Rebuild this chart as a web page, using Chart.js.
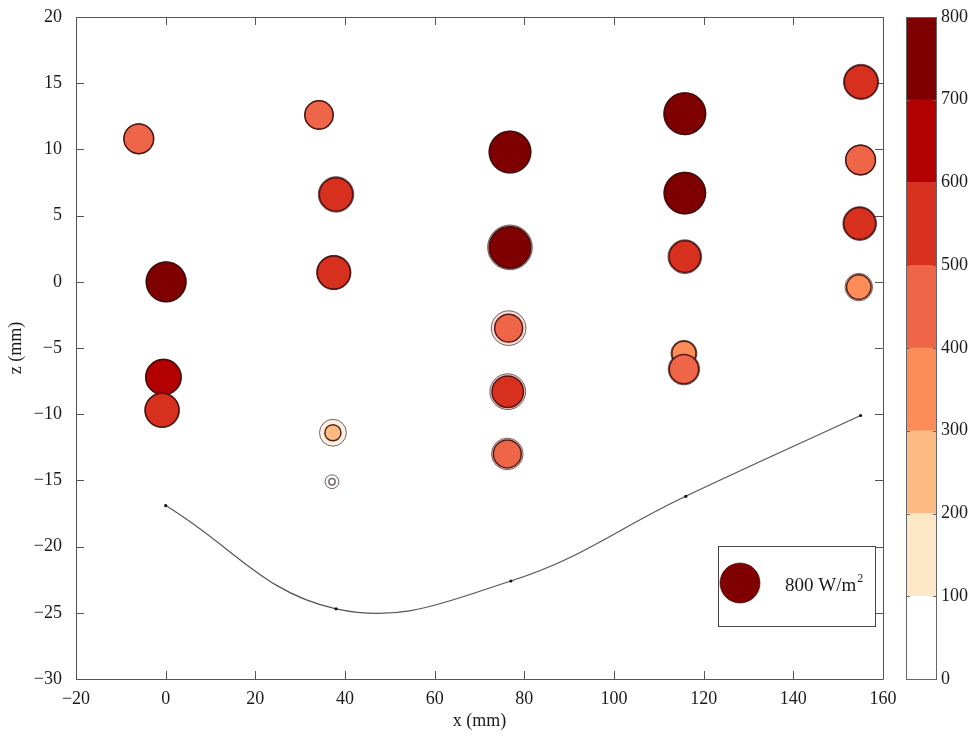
<!DOCTYPE html>
<html><head><meta charset="utf-8">
<script src="https://cdn.jsdelivr.net/npm/chart.js@4/dist/chart.umd.min.js"></script>
<style>
html,body{margin:0;padding:0;background:#fff;}
#wrap{position:relative;width:974px;height:737px;overflow:hidden;}
#main{position:absolute;left:0;top:0;}
#cbar{position:absolute;left:890px;top:0;}
</style></head><body>
<div id="wrap"><canvas id="main" width="974" height="737"></canvas><canvas id="cbar" width="84" height="737"></canvas></div>
<script>
// ---- data ----
const xPos  = [-6.0, 0.1, -0.5, -0.8, 34.2, 38.0, 37.5, 37.3, 37.1, 76.8, 76.8, 76.5, 76.3, 76.2, 115.8, 115.8, 115.8, 115.6, 115.6, 155.1, 155.0, 154.8, 154.6];
const zPos  = [10.8, 0.0, -7.2, -9.7, 12.6, 6.6, 0.7, -11.4, -15.1, 9.8, 2.6, -3.5, -8.3, -13.0, 12.7, 6.7, 1.9, -5.4, -6.6, 15.1, 9.2, 4.4, -0.4];
const fluxA = [440, 790, 620, 570, 400, 560, 550, 130, 20, 860, 870, 390, 500, 390, 860, 850, 500, 290, 430, 560, 440, 510, 300];
const fluxB = [460, 800, 650, 600, 420, 630, 590, 360, 95, 880, 1000, 600, 640, 500, 890, 880, 570, 340, 500, 620, 460, 570, 380];
const pathX = [0, 38, 77, 116, 155];
const pathZ = [-16.9, -24.7, -22.6, -16.2, -10.1];
const xTicks = [-20, 0, 20, 40, 60, 80, 100, 120, 140, 160];
const zTicks = [-30, -25, -20, -15, -10, -5, 0, 5, 10, 15, 20];
const bandEdges = [0, 100, 200, 300, 400, 500, 600, 700, 800];
const bandColors = ['#ffffff', '#fee8c8', '#fdbb84', '#fc8d59', '#ef6548', '#d7301f', '#b30000', '#7f0000'];
const legendValue = 800;

// ---- helpers ----
const SERIF = '"Liberation Serif", "Times New Roman", serif';
Chart.defaults.font.family = SERIF;
Chart.defaults.font.size = 18;
Chart.defaults.color = '#1a1a1a';
const REF_R = 20;
function radius(v) { return REF_R * Math.sqrt(v / legendValue); }
function bandColor(v) {
  for (let i = 0; i < bandColors.length; i++) if (v < bandEdges[i + 1]) return bandColors[i];
  return bandColors[bandColors.length - 1];
}
function hexA(hex, a) {
  const n = parseInt(hex.slice(1), 16);
  return `rgba(${(n >> 16) & 255},${(n >> 8) & 255},${n & 255},${a})`;
}
const fmt = v => String(v).replace('-', '\u2212');
const meanFlux = fluxA.map((a, i) => (a + fluxB[i]) / 2);
const innerVal = fluxA.map((a, i) => Math.min(a, fluxB[i]));
const outerVal = fluxA.map((a, i) => Math.max(a, fluxB[i]));

const inner = xPos.map((x, i) => ({x, y: zPos[i], r: radius(innerVal[i])}));
const outer = xPos.map((x, i) => ({x, y: zPos[i], r: radius(outerVal[i])}));
const path = pathX.map((x, i) => ({x, y: pathZ[i]}));

const AXIS = '#555555';
const framePlugin = {
  id: 'frame',
  beforeDatasetsDraw(chart) {
    const {ctx, chartArea: a, scales: {x, y}} = chart;
    ctx.save();
    ctx.strokeStyle = AXIS;
    ctx.lineWidth = 1;
    ctx.beginPath();
    ctx.rect(a.left + 0.5, a.top + 0.5, a.right - a.left, a.bottom - a.top);
    const L = 8;
    xTicks.forEach(v => {
      const p = Math.round(x.getPixelForValue(v)) + 0.5;
      ctx.moveTo(p, a.bottom); ctx.lineTo(p, a.bottom - L);
      ctx.moveTo(p, a.top); ctx.lineTo(p, a.top + L);
    });
    zTicks.forEach(v => {
      const p = Math.round(y.getPixelForValue(v)) + 0.5;
      ctx.moveTo(a.left, p); ctx.lineTo(a.left + L, p);
      ctx.moveTo(a.right, p); ctx.lineTo(a.right - L, p);
    });
    ctx.stroke();
    ctx.restore();
  },
  afterDraw(chart) {
    const {ctx, chartArea: a} = chart;
    const bx = a.right - 165, by = a.bottom - 133, bw = 157, bh = 80;
    ctx.save();
    ctx.fillStyle = '#fff';
    ctx.fillRect(bx, by, bw, bh);
    ctx.strokeStyle = '#444';
    ctx.lineWidth = 1;
    ctx.strokeRect(bx + 0.5, by + 0.5, bw, bh);
    const cx = bx + 22, cy = by + 37;
    ctx.beginPath();
    ctx.arc(cx, cy, radius(legendValue), 0, Math.PI * 2);
    ctx.fillStyle = bandColor(legendValue);
    ctx.fill();
    ctx.strokeStyle = 'rgba(60,0,0,0.6)';
    ctx.stroke();
    ctx.fillStyle = '#1a1a1a';
    ctx.font = '19px ' + SERIF;
    ctx.textBaseline = 'alphabetic';
    const t = legendValue + ' W/m';
    const tx = bx + 67, ty = cy + 8;
    ctx.fillText(t, tx, ty);
    const w = ctx.measureText(t).width;
    ctx.font = '12px ' + SERIF;
    ctx.fillText('2', tx + w + 1, ty - 9);
    ctx.restore();
  }
};

new Chart(document.getElementById('main'), {
  type: 'bubble',
  data: {
    datasets: [
      {
        type: 'line', data: path, order: 0,
        borderColor: '#555', borderWidth: 1.2, tension: 0.4,
        pointRadius: 1.6, pointBackgroundColor: '#111', pointBorderWidth: 0,
        fill: false
      },
      {
        data: inner, order: 1,
        backgroundColor: meanFlux.map(v => bandColor(v)),
        borderColor: meanFlux.map(v => v < 100 ? 'rgba(80,70,70,0.8)' : 'rgba(55,5,5,0.85)'),
        borderWidth: 1.5
      },
      {
        data: outer, order: 2,
        backgroundColor: meanFlux.map(v => hexA(bandColor(v), 0.22)),
        borderColor: 'rgba(60,35,35,0.7)', borderWidth: 1
      }
    ]
  },
  options: {
    responsive: false, animation: false,
    clip: false,
    layout: {autoPadding: false, padding: {top: 17, right: 91, left: 0, bottom: 0}},
    plugins: {legend: {display: false}, tooltip: {enabled: false}},
    scales: {
      x: {
        type: 'linear', min: -20, max: 160,
        afterBuildTicks: s => { s.ticks = xTicks.map(v => ({value: v})); },
        afterFit: s => { s.height = 58; },
        grid: {display: false}, border: {display: false},
        ticks: {padding: 1, callback: fmt, maxRotation: 0, autoSkip: false},
        title: {display: true, text: 'x (mm)', padding: {top: 0, bottom: 5}}
      },
      y: {
        type: 'linear', min: -30, max: 20,
        afterBuildTicks: s => { s.ticks = zTicks.map(v => ({value: v})); },
        afterFit: s => { s.width = 76; },
        grid: {display: false}, border: {display: false},
        ticks: {padding: 6, callback: fmt, autoSkip: false},
        title: {display: true, text: 'z (mm)', padding: {top: 5, bottom: 0}}
      }
    }
  },
  plugins: [framePlugin]
});

// ---- colour bar ----
const cbarPlugin = {
  id: 'cbarFrame',
  afterDraw(chart) {
    const {ctx, chartArea: a, scales: {y}} = chart;
    ctx.save();
    ctx.strokeStyle = '#666';
    ctx.lineWidth = 1;
    ctx.beginPath();
    ctx.rect(a.left + 0.5, a.top + 0.5, a.right - a.left - 1, a.bottom - a.top);
    bandEdges.forEach(v => {
      const p = Math.round(y.getPixelForValue(v)) + 0.5;
      ctx.moveTo(a.left, p); ctx.lineTo(a.left + 4, p);
      ctx.moveTo(a.right, p); ctx.lineTo(a.right - 4, p);
    });
    ctx.stroke();
    ctx.restore();
  }
};
new Chart(document.getElementById('cbar'), {
  type: 'bar',
  data: {
    labels: [''],
    datasets: bandColors.map((c, i) => ({
      data: [bandEdges[i + 1] - bandEdges[i]],
      backgroundColor: c, borderWidth: 0,
      barPercentage: 1, categoryPercentage: 1
    }))
  },
  options: {
    responsive: false, animation: false,
    layout: {autoPadding: false, padding: {top: 17, bottom: 58, left: 16, right: 0}},
    plugins: {legend: {display: false}, tooltip: {enabled: false}},
    scales: {
      x: {stacked: true, display: false},
      y: {
        stacked: true, min: 0, max: 800, position: 'right',
        afterBuildTicks: s => { s.ticks = bandEdges.map(v => ({value: v})); },
        afterFit: s => { s.width = 37; },
        grid: {display: false}, border: {display: false},
        ticks: {padding: -4, autoSkip: false}
      }
    }
  },
  plugins: [cbarPlugin]
});
</script>
</body></html>
